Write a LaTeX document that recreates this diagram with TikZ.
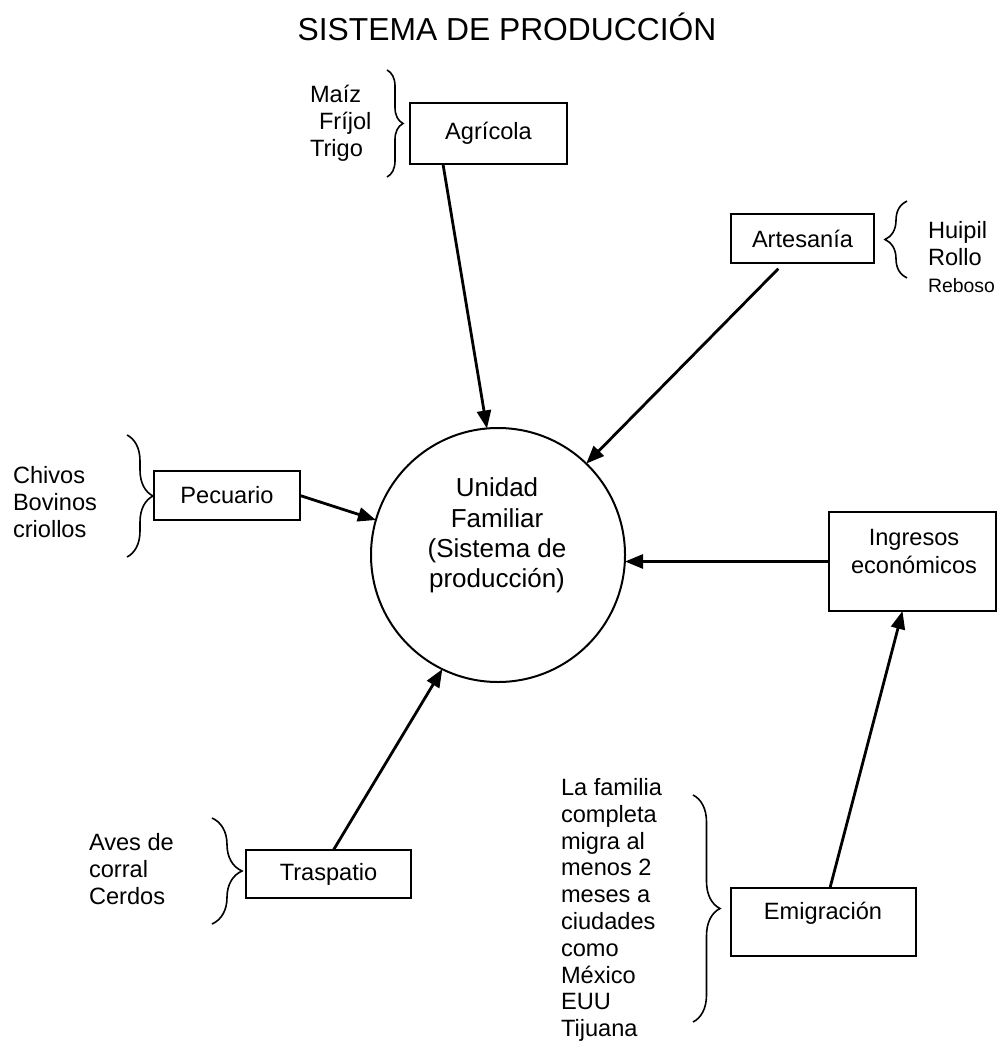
\documentclass[tikz,border=0pt]{standalone}
\usepackage{fontspec}
\setmainfont{Liberation Sans}
\usetikzlibrary{arrows.meta,calc,decorations.pathreplacing}
\begin{document}
\begin{tikzpicture}[x=0.5pt,y=-0.5pt,
  txt/.style={font={\fontsize{11.8}{13.4}\selectfont},inner sep=0pt,outer sep=0pt,align=left},
  boxnode/.style={draw,line width=1.2pt,inner sep=0pt,outer sep=0pt,align=center,font={\fontsize{11.8}{13.6}\selectfont}},
  circnode/.style={draw,circle,line width=1pt,minimum size=127pt,inner sep=0pt,outer sep=0pt},
  conn/.style={line width=1.4pt,-{Triangle[length=9pt,width=7pt]}},
  bracedeco/.style={line width=0.8pt,decorate,decoration={brace,amplitude=#1}}
]
\useasboundingbox (0,0) rectangle (999,1048);
% title
\node[inner sep=0pt,font={\fontsize{15.9}{18}\selectfont}] (title) at (507,27) {SISTEMA DE PRODUCCIÓN};
% boxes
\node[boxnode,minimum width=78.5pt,minimum height=30.5pt] (agr) at (488.5,133.5) {Agrícola};
\node[boxnode,minimum width=71.5pt,minimum height=24.5pt] (art) at (802.5,238.5) {Artesanía};
\node[boxnode,minimum width=73pt,minimum height=24.5pt] (pec) at (227,495.5) {Pecuario};
\node[boxnode,minimum width=83.5pt,minimum height=49.5pt] (ing) at (912.5,561.5) {};
\node[txt,align=center,font={\fontsize{11.8}{14}\selectfont}] (ingtxt) at (914,551) {Ingresos\\económicos};
\node[boxnode,minimum width=92.5pt,minimum height=34pt] (emi) at (823.5,922) {};
\node[txt] (emitxt) at (823,913) {Emigración};
\node[boxnode,minimum width=82.5pt,minimum height=24pt] (tra) at (328.5,874) {Traspatio};
% circle
\node[circnode] (c) at (498,555) {};
\node[txt,align=center,font={\fontsize{13}{15.2}\selectfont}] (ctxt) at (497,535.5) {Unidad\\Familiar\\(Sistema de\\producción)};
% lists
\node[txt,anchor=west] (agrlist) at (310,123) {Maíz\\\hspace{4.5pt}Fríjol\\Trigo};
\node[txt,anchor=west] (artlist) at (928,257) {Huipil\\Rollo\\{\fontsize{9.7}{12}\selectfont Reboso}};
\node[txt,anchor=west] (peclist) at (13,502) {Chivos\\Bovinos\\criollos};
\node[txt,anchor=west] (tralist) at (89,869) {Aves de\\corral\\Cerdos};
\node[txt,anchor=west] (emilist) at (561,910) {La familia\\completa\\migra al\\menos 2\\meses a\\ciudades\\como\\México\\EUU\\Tijuana};
% braces
\coordinate (b1t) at (387,70);  \coordinate (b1b) at (387,177);
\draw[bracedeco=8pt] (b1t) -- (b1b);
\coordinate (b2t) at (907,201); \coordinate (b2b) at (907,278);
\draw[bracedeco=11pt] (b2b) -- (b2t);
\coordinate (b3t) at (127,435); \coordinate (b3b) at (127,557);
\draw[bracedeco=13pt] (b3t) -- (b3b);
\coordinate (b4t) at (212,818); \coordinate (b4b) at (212,924);
\draw[bracedeco=15pt] (b4t) -- (b4b);
\coordinate (b5t) at (693,795); \coordinate (b5b) at (693,1022);
\draw[bracedeco=13.5pt] (b5t) -- (b5b);
% connectors
\draw[conn] ($(agr.south west)!0.21!(agr.south east)$) -- (c.95);
\draw[conn,shorten <=4pt] ($(art.south west)!0.37!(art.south east)$) -- (c.46);
\draw[conn] (pec.east) -- (c.164);
\draw[conn] (ing.west) -- (ing.west -| c.east);
\draw[conn] ($(tra.north west)!0.53!(tra.north east)$) -- (c.244);
\draw[conn] ($(emi.north west)!0.535!(emi.north east)$) -- ($(ing.south west)!0.44!(ing.south east)$);
\end{tikzpicture}
\end{document}
